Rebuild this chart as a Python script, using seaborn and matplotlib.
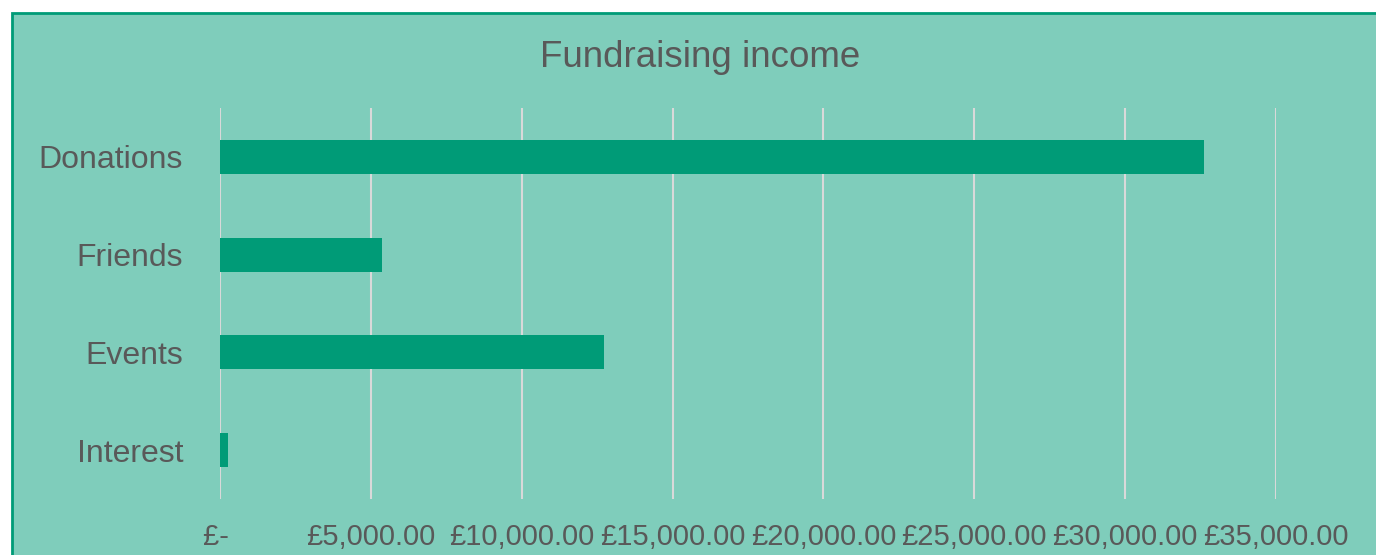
import matplotlib
matplotlib.use("Agg")
import matplotlib.pyplot as plt
import seaborn as sns
import pandas as pd
from matplotlib.patches import Rectangle

categories = ["Donations", "Friends", "Events", "Interest"]
values = [32600, 5360, 12720, 265]
tick_values = [0, 5000, 10000, 15000, 20000, 25000, 30000, 35000]
tick_labels = ["£- ", "£5,000.00", "£10,000.00", "£15,000.00", "£20,000.00",
               "£25,000.00", "£30,000.00", "£35,000.00"]

BG = "#7FCDBB"
BAR = "#009B77"
TXT = "#595959"

sns.set_theme(style="white")
plt.rcParams['font.family'] = ['Liberation Sans', 'DejaVu Sans']

W, H = 1376, 555
fig = plt.figure(figsize=(W / 100, H / 100), dpi=100)
fig.patch.set_facecolor("white")
fig.patches.append(Rectangle((12 / W, -0.05), 1.1, 1 - 13 / H + 0.05,
                             transform=fig.transFigure, facecolor=BG,
                             edgecolor=BAR, linewidth=2, zorder=-10))

ax = fig.add_axes([220 / W, (H - 499) / H, (1276 - 220) / W, (499 - 108) / H])
ax.set_facecolor("none")

df = pd.DataFrame({"category": categories, "value": values})
sns.barplot(data=df, x="value", y="category", orient="h", color=BAR,
            saturation=1, width=0.35, linewidth=0, ax=ax)

ax.set_xlim(0, 35000)
ax.set_ylim(3.5, -0.5)
ax.set_xticks(tick_values)
ax.set_xticklabels(tick_labels)
ax.set_xlabel("")
ax.set_ylabel("")
for s in ax.spines.values():
    s.set_visible(False)
ax.grid(axis="x", color="#D9D9D9", linewidth=1.5)
ax.set_axisbelow(True)
ax.tick_params(axis="x", length=0, pad=17, labelsize=21, labelcolor=TXT)
ax.tick_params(axis="y", length=0, pad=26.5, labelsize=23, labelcolor=TXT)

fig.text(700 / W, 1 - 57 / H, "Fundraising income", ha="center", va="center",
         fontsize=26.5, color=TXT)

fig.savefig("out.png", dpi=100, facecolor=fig.get_facecolor())
